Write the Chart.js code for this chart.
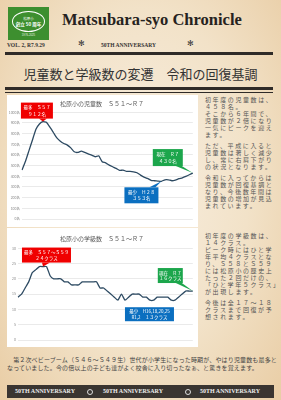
<!DOCTYPE html>
<html lang="ja">
<head>
<meta charset="utf-8">
<script src="https://cdn.jsdelivr.net/npm/chart.js@4"></script>
<style>
  html, body { margin: 0; padding: 0; }
  body {
    width: 281px; height: 400px; overflow: hidden; position: relative;
    background: radial-gradient(ellipse at 50% 45%, #f8eee0 0%, #f2e2c8 55%, #e9cda5 100%);
    font-family: "Noto Sans CJK JP", sans-serif; color: #3a3a3a;
  }
  .abs { position: absolute; }
  #logo { left: 8px; top: 7px; width: 41px; height: 33px; background: #3d8f2f; }
  #logo .oval { position: absolute; left: 4px; top: 4px; width: 33px; height: 21px; border: 1px solid #fff; border-radius: 50%; box-sizing: border-box; }
  #logo .t1 { position: absolute; left: 0; width: 41px; top: 9px; text-align: center; font-size: 3.5px; color: #fff; }
  #logo .t2 { position: absolute; left: 0; width: 41px; top: 14px; text-align: center; font-size: 4.5px; color: #fff; font-weight: bold; }
  #logo .t3 { position: absolute; left: 0; width: 41px; top: 26px; text-align: center; font-size: 2.8px; color: #e8f2e0; font-family: "Liberation Sans"; }
  #masthead { left: 62px; top: 10px; font-family: "Liberation Serif", serif; font-weight: bold; font-size: 16.5px; color: #262220; white-space: nowrap; }
  .sub { top: 42px; font-family: "Liberation Serif", serif; font-weight: bold; font-size: 5.5px; color: #333; white-space: nowrap; }
  .star { top: 39px; font-family: "DejaVu Sans"; font-size: 8px; color: #333; }
  .rule { left: 5px; width: 268px; background: #2f2b28; }
  #headline { left: 0; width: 281px; top: 65px; text-align: center; font-size: 13px; line-height: 18px; color: #333; white-space: nowrap; }
  canvas { position: absolute; background: #fff; }
  .side { left: 205px; width: 76px; font-size: 6px; line-height: 7px; letter-spacing: 1.6px; color: #555; white-space: pre; }
  .side p { margin: 0 0 4px 0; }
  #bottomText { left: 7px; width: 274px; top: 356px; font-size: 6px; line-height: 7.6px; color: #444; white-space: nowrap; letter-spacing: 0.15px; }
  #footer { left: 7px; top: 385px; width: 267px; height: 13px; background: #3a3531; }
  #footer span { position: absolute; top: 3.2px; font-family: "Liberation Serif", serif; font-weight: bold; font-size: 6px; color: #eee; white-space: nowrap; }
  #footer i { position: absolute; top: 3.5px; width: 6px; height: 6px; border: 0.7px solid #ddd; border-radius: 50%; box-sizing: border-box; }
</style>
</head>
<body>
<div id="logo" class="abs">
  <div class="oval"></div>
  <div class="t1">松原小</div>
  <div class="t2">創立 50 周年</div>
  <div class="t3">1976-2025</div>
</div>
<div id="masthead" class="abs">Matsubara-syo Chronicle</div>
<div class="abs sub" style="left:7px">VOL. 2, R7.9.29</div>
<div class="abs star" style="left:78px">✻</div>
<div class="abs sub" style="left:101px">50TH ANNIVERSARY</div>
<div class="abs star" style="left:187px">✻</div>
<div class="abs rule" style="top:52px;height:3px"></div>
<div id="headline" class="abs">児童数と学級数の変遷　令和の回復基調</div>
<div class="abs rule" style="top:87px;height:2.5px"></div>
<div class="abs rule" style="top:91.5px;height:0.8px"></div>

<canvas id="pupilChart" width="191" height="132" style="left:7px;top:95px"></canvas>
<canvas id="classChart" width="191" height="119" style="left:7px;top:228px"></canvas>

<div class="abs side" style="top:96px"><p>初年度の児童数は、
４５８名。
そこから６年間で、
児童数が２倍になり
一気にピークを迎え
ます。</p><p>ただ、平成に入ると
児童数は著しく減少
し、常に右肩下がり
の状況となります。</p><p>令和に入ってからは
児童数が回復基調と
なり、今後数年間は
児童数の増加が見込
まれています。</p></div>
<div class="abs side" style="top:232px"><p>初年度の学級数は、
１４クラス。
ピーク時にはひと学
年平均４クラスとな
り、Ｓ５８とＳ５９
には松原小の歴史上
たった２回だけの、
「ひと学年５クラス」
が出現します。</p><p>今後は全１７～１８
クラスまで回復が予
想されます。</p></div>

<div id="bottomText" class="abs">　第２次ベビーブーム（Ｓ４６～Ｓ４９生）世代が小学生になった時期が、やはり児童数も最多と<br>なっていました。今の倍以上の子ども達がよく校舎に入り切ったなぁ、と驚きを覚えます。</div>

<div id="footer" class="abs">
  <span style="left:8px">50TH ANNIVERSARY</span>
  <i style="left:80px"></i>
  <span style="left:96px">50TH ANNIVERSARY</span>
  <i style="left:178px"></i>
  <span style="left:193px">50TH ANNIVERSARY</span>
</div>

<script>
// school years S51 .. R7
const years = ["S51","S52","S53","S54","S55","S56","S57","S58","S59","S60","S61","S62","S63",
  "H1","H2","H3","H4","H5","H6","H7","H8","H9","H10","H11","H12","H13","H14","H15","H16","H17",
  "H18","H19","H20","H21","H22","H23","H24","H25","H26","H27","H28","H29","H30",
  "R1","R2","R3","R4","R5","R6","R7"];

// number of pupils
const pupils = [458, 540, 640, 740, 840, 890, 912, 905, 860, 810,
  760, 729, 707, 692, 666, 629, 623, 636, 623, 610,
  598, 583, 592, 536, 526, 505, 489, 474, 455, 458,
  446, 446, 442, 433, 411, 392, 380, 362, 358, 355,
  353, 367, 367, 358, 364, 377, 386, 399, 414, 430];

// number of classes
const classes = [14, 15, 17, 19, 22, 23, 24, 24, 24, 21,
  20, 20, 20, 19, 19, 18, 18, 18, 19, 19,
  19, 19, 19, 17, 17, 16, 15, 14, 13, 15,
  13, 14, 15, 15, 15, 14, 14, 13, 13, 14,
  14, 14, 14, 13, 13, 14, 15, 16, 16, 16];

const pupilTicks = [0, 100, 200, 300, 400, 500, 600, 700, 800, 900, 1000];
const classTicks = [0, 5, 10, 15, 20, 25, 30];

const lineColor = "#2d4a62";
const jp = "Noto Sans CJK JP";

// callout boxes, anchored to a data point
const pupilNotes = [
  { i: 6,  lines: ["最多　Ｓ５７", "９１２名"], color: "#f00000", dx: -22, dy: -19, w: 32, h: 16, tail: { side: "bottom", from: 18, to: 26 } },
  { i: 49, lines: ["現在　Ｒ７", "４３０名"], color: "#1ca64c", dx: -40, dy: -24, w: 30, h: 17, tail: { side: "bottom", from: 23, to: 29 } },
  { i: 40, lines: ["最少　Ｈ２８", "３５３名"], color: "#0b6fc0", dx: -37, dy: 6, w: 34, h: 16, tail: { side: "top", from: 25, to: 31 } }
];
const classNotes = [
  { i: 7,  lines: ["最多　Ｓ５７～Ｓ５９", "２４クラス"], color: "#f00000", dx: -21, dy: -19, w: 49, h: 15, tail: { side: "bottom", from: 20, to: 28 } },
  { i: 49, lines: ["現在　Ｒ７", "１６クラス"], color: "#1ca64c", dx: -35, dy: -23, w: 25, h: 15, tail: { side: "bottom", from: 18, to: 24 } },
  { i: 44, lines: ["最少　H16,18,20,25", "R1,2　１３クラス"], color: "#0b6fc0", dx: -50, dy: 7, w: 49, h: 14 }
];

const calloutPlugin = {
  id: "callouts",
  afterDatasetsDraw(chart, args, opts) {
    const ctx = chart.ctx;
    const data = chart.data.datasets[0].data;
    ctx.save();
    opts.notes.forEach(n => {
      const px = chart.scales.x.getPixelForValue(n.i);
      const py = chart.scales.y.getPixelForValue(data[n.i]);
      const left = px + n.dx, top = py + n.dy;
      ctx.fillStyle = n.color;
      ctx.fillRect(left, top, n.w, n.h);
      if (n.tail) {
        const ey = n.tail.side === "bottom" ? top + n.h : top;
        ctx.beginPath();
        ctx.moveTo(left + n.tail.from, ey);
        ctx.lineTo(px, py);
        ctx.lineTo(left + n.tail.to, ey);
        ctx.closePath();
        ctx.fill();
      }
      ctx.fillStyle = "#fff";
      ctx.font = "4.5px '" + jp + "'";
      ctx.textAlign = "center";
      ctx.textBaseline = "middle";
      ctx.fillText(n.lines[0], left + n.w / 2, top + n.h * 0.32);
      ctx.fillText(n.lines[1], left + n.w / 2, top + n.h * 0.70);
    });
    ctx.restore();
  }
};

function makeChart(id, values, ticks, title, notes, yWidth, xHeight, pad, suffix) {
  return new Chart(document.getElementById(id), {
    type: "line",
    data: {
      labels: years,
      datasets: [{
        data: values,
        borderColor: lineColor,
        borderWidth: 1.3,
        pointRadius: 0,
        tension: 0.15,
        fill: false
      }]
    },
    options: {
      responsive: false,
      animation: false,
      layout: { padding: { top: 0, right: 1, left: 0, bottom: 0 } },
      plugins: {
        legend: { display: false },
        tooltip: { enabled: false },
        title: {
          display: true,
          text: title,
          color: "#595959",
          font: { size: 6, family: jp, weight: "normal" },
          padding: pad
        },
        callouts: { notes: notes }
      },
      scales: {
        x: {
          grid: { display: false },
          border: { display: false },
          ticks: { autoSkip: false, minRotation: 90, maxRotation: 90, padding: 1, color: "#9a9a9a", font: { size: 3.5, family: jp } },
          afterFit: s => { s.height = xHeight; }
        },
        y: {
          min: ticks[0],
          max: ticks[ticks.length - 1],
          afterBuildTicks: s => { s.ticks = ticks.map(v => ({ value: v })); },
          grid: { color: "#dcdcdc", lineWidth: 0.6, drawTicks: false },
          border: { display: false },
          ticks: { padding: 2, color: "#8a8a8a", font: { size: 3.5, family: jp }, callback: v => v + suffix },
          afterFit: s => { s.width = yWidth; }
        }
      }
    },
    plugins: [calloutPlugin]
  });
}

makeChart("pupilChart", pupils, pupilTicks, "松原小の児童数　Ｓ５１～Ｒ７", pupilNotes, 15, 8, { top: 5, bottom: 5 }, "名");
makeChart("classChart", classes, classTicks, "松原小の学級数　Ｓ５１～Ｒ７", classNotes, 11, 7, { top: 7, bottom: 6 }, "");
</script>
</body>
</html>
